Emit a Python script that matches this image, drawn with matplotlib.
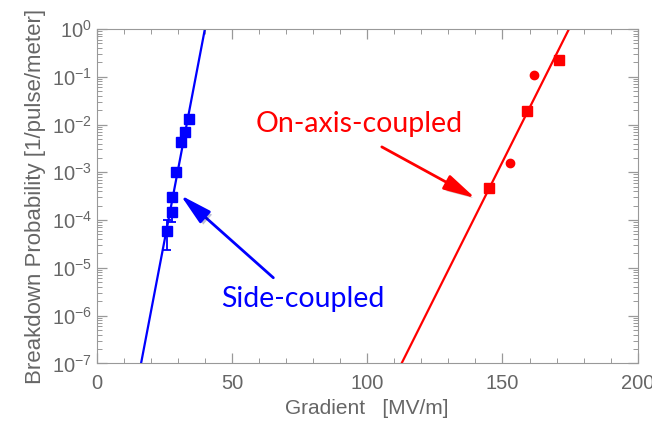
import numpy as np
import matplotlib
matplotlib.use("Agg")
from matplotlib import pyplot as plt
from matplotlib import patheffects as pe
from matplotlib.ticker import LogLocator, MultipleLocator, NullFormatter

plt.rcParams['font.family'] = ['Liberation Sans', 'DejaVu Sans']
plt.rcParams['mathtext.default'] = 'regular'

# side-coupled structure (blue squares)
side_grad = [34.0, 32.5, 31.05, 29.3, 27.8, 27.8, 26.0]
side_prob = [1.28e-2, 7.0e-3, 4.3e-3, 1.0e-3, 3.0e-4, 1.5e-4, 6.0e-5]
side_err_lo = [0, 0, 0, 0, 0, 0.6e-4, 3.6e-5]
side_err_hi = [0, 0, 0, 0, 0, 0.3e-4, 4.0e-5]

# on-axis-coupled structure (red squares and circles)
onax_sq_grad = [171.0, 159.1, 144.9]
onax_sq_prob = [0.22, 1.9e-2, 4.6e-4]
onax_ci_grad = [161.7, 152.7]
onax_ci_prob = [0.107, 1.6e-3]

# exponential fits: log10(P) = slope * (G - G at P=1)
side_slope, side_g1 = 0.2966, 40.0
onax_slope, onax_g1 = 0.1131, 174.6

gray = '#666666'
blue = '#0000ff'
red = '#ff0000'

fig = plt.figure(figsize=(6.52, 4.26), dpi=100)
ax = fig.add_axes([0.1483, 0.147, 0.8298, 0.785])

g = np.linspace(0, 200, 801)
ax.plot(g, 10 ** (side_slope * (g - side_g1)), color=blue, lw=1.6)
ax.plot(g, 10 ** (onax_slope * (g - onax_g1)), color=red, lw=1.6)

ax.errorbar(side_grad, side_prob, yerr=[side_err_lo, side_err_hi], fmt='s',
            color=blue, ms=7.5, capsize=3, elinewidth=1.3, capthick=1.3)
ax.plot(onax_sq_grad, onax_sq_prob, 's', color=red, ms=6.5)
ax.plot(onax_ci_grad, onax_ci_prob, 'o', color=red, ms=6)

ax.set_yscale('log')
ax.set_xlim(0, 200)
ax.set_ylim(1e-7, 1)
ax.xaxis.set_major_locator(MultipleLocator(50))
ax.xaxis.set_minor_locator(MultipleLocator(10))
ax.yaxis.set_major_locator(LogLocator(base=10, numticks=10))
ax.yaxis.set_minor_locator(LogLocator(base=10, subs=np.arange(2, 10), numticks=20))
ax.yaxis.set_minor_formatter(NullFormatter())

ax.tick_params(which='both', direction='in', top=True, right=True,
               color='#999999', labelcolor=gray, labelsize=14.5)
ax.tick_params(which='major', length=7, width=0.9)
ax.tick_params(which='minor', length=3.5, width=0.7)
ax.tick_params(axis='x', pad=8)
for s in ax.spines.values():
    s.set_color('#999999')

ax.set_xlabel('Gradient   [MV/m]', color=gray, fontsize=15)
ax.set_ylabel('Breakdown Probability [1/pulse/meter]', color=gray, fontsize=16)

head = '-|>,head_length=1.2,head_width=0.3'
a1 = ax.annotate('', xy=(139.9, 2.9e-4), xytext=(105.4, 3.4e-3),
                 arrowprops=dict(arrowstyle=head, color=red, lw=2,
                                 mutation_scale=16, shrinkA=0, shrinkB=0))
a1.arrow_patch.set_path_effects([pe.SimplePatchShadow(offset=(2, -2), alpha=0.25), pe.Normal()])
a2 = ax.annotate('', xy=(31.05, 3.3e-4), xytext=(65.3, 6.2e-6),
                 arrowprops=dict(arrowstyle=head, color=blue, lw=2,
                                 mutation_scale=16, shrinkA=0, shrinkB=0))
a2.arrow_patch.set_path_effects([pe.SimplePatchShadow(offset=(2, -2), alpha=0.25), pe.Normal()])

ax.text(97.0, 6.9e-3, 'On-axis-coupled', color=red, fontsize=20.5,
        family=['Lato', 'DejaVu Sans'], ha='center', va='baseline')
ax.text(76.3, 1.48e-6, 'Side-coupled', color=blue, fontsize=20.5,
        family=['Lato', 'DejaVu Sans'], ha='center', va='baseline')

fig.savefig('out.png', dpi=100)
